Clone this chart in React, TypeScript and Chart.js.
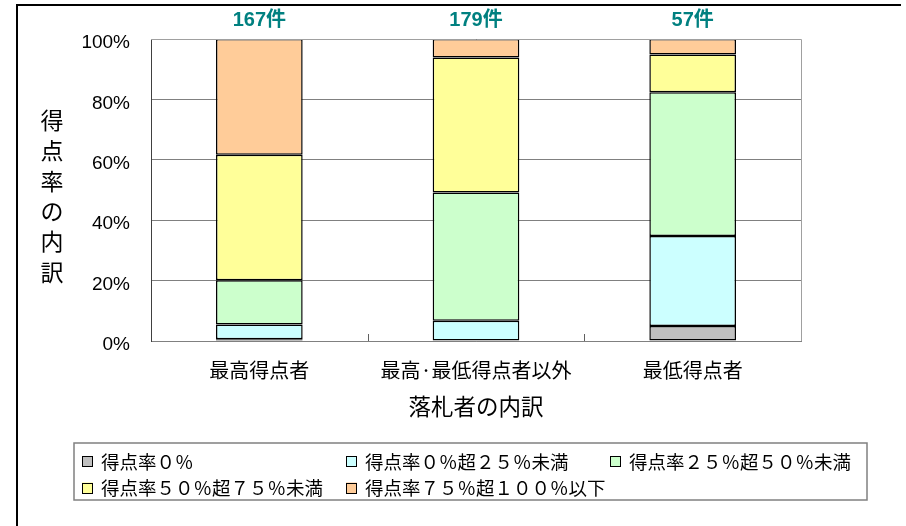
import React, { useEffect, useRef } from 'react';
import { Chart, registerables } from 'chart.js';

Chart.register(...registerables);

// ---- data ----
const categories = ['最高得点者', '最高·最低得点者以外', '最低得点者'];
const counts = [167, 179, 57];
const seriesLabels = [
  '得点率０％',
  '得点率０％超２５％未満',
  '得点率２５％超５０％未満',
  '得点率５０％超７５％未満',
  '得点率７５％超１００％以下',
];
const seriesColors = ['#C0C0C0', '#CCFFFF', '#CCFFCC', '#FFFF99', '#FFCC99'];
const rate0 = [0.6, 0, 5.0];
const rate0to25 = [4.9, 6.7, 29.8];
const rate25to50 = [14.6, 42.5, 47.6];
const rate50to75 = [41.6, 44.7, 12.5];
const rate75to100 = [38.3, 6.1, 5.1];
const yTicks = [0, 20, 40, 60, 80, 100];
const yTitle = '得点率の内訳';
const xTitle = '落札者の内訳';

const CJK = '"Noto Sans CJK JP", "Noto Sans", sans-serif';
const LATIN = '"Liberation Sans", Arial, "Noto Sans CJK JP", sans-serif';

const decorPlugin = {
  id: 'decor',
  afterDraw(chart: any) {
    const ctx = chart.ctx;
    const area = chart.chartArea;
    const x = chart.scales.x;
    ctx.save();
    // plot area top & right border
    ctx.strokeStyle = '#a0a0a0';
    ctx.lineWidth = 1;
    ctx.beginPath();
    ctx.moveTo(area.left, Math.round(area.top) + 0.5);
    ctx.lineTo(Math.round(area.right) + 0.5, Math.round(area.top) + 0.5);
    ctx.lineTo(Math.round(area.right) + 0.5, area.bottom);
    ctx.stroke();
    // inner tick marks between categories
    ctx.strokeStyle = '#606060';
    for (let i = 0; i < categories.length - 1; i++) {
      const bx = Math.round((x.getPixelForValue(i) + x.getPixelForValue(i + 1)) / 2) + 0.5;
      ctx.beginPath();
      ctx.moveTo(bx, area.bottom);
      ctx.lineTo(bx, area.bottom - 7);
      ctx.stroke();
    }
    // count labels above bars
    ctx.fillStyle = '#008080';
    ctx.font = 'bold 20px ' + LATIN;
    ctx.textAlign = 'center';
    ctx.textBaseline = 'middle';
    counts.forEach((c, i) => {
      ctx.fillText(c + '件', x.getPixelForValue(i), 20);
    });
    // y title (stacked vertical characters)
    ctx.fillStyle = '#000';
    ctx.font = '23px ' + CJK;
    Array.from(yTitle).forEach((ch, i) => {
      ctx.fillText(ch, 52, 120 + i * 30.4);
    });
    // outer frame
    ctx.strokeStyle = '#000';
    ctx.lineWidth = 2;
    ctx.beginPath();
    ctx.moveTo(17, 526);
    ctx.lineTo(17, 5);
    ctx.lineTo(901, 5);
    ctx.stroke();
    // legend
    const lx = 74, ly = 443, lw = 793, lh = 57;
    ctx.strokeStyle = '#808080';
    ctx.lineWidth = 1.5;
    ctx.strokeRect(lx, ly, lw, lh);
    ctx.font = '18.5px ' + CJK;
    ctx.textAlign = 'left';
    ctx.textBaseline = 'middle';
    seriesLabels.forEach((label, i) => {
      const col = i % 3;
      const row = Math.floor(i / 3);
      const ix = lx + 8 + col * 264;
      const iy = ly + 18.5 + row * 26.5;
      ctx.fillStyle = seriesColors[i];
      ctx.fillRect(ix, iy - 5.5, 11, 11);
      ctx.strokeStyle = '#000';
      ctx.lineWidth = 1;
      ctx.strokeRect(ix + 0.5, Math.round(iy - 5.5) + 0.5, 10, 10);
      ctx.fillStyle = '#000';
      ctx.fillText(label, ix + 19, iy);
    });
    ctx.restore();
  },
};

export default function App() {
  const ref = useRef<HTMLCanvasElement>(null);
  useEffect(() => {
    const seriesData = [rate0, rate0to25, rate25to50, rate50to75, rate75to100];
    const chart = new Chart(ref.current as HTMLCanvasElement, {
      type: 'bar',
      data: {
        labels: categories,
        datasets: seriesData.map((d, i) => ({
          label: seriesLabels[i],
          data: d,
          backgroundColor: seriesColors[i],
          borderColor: '#000',
          borderWidth: 1.5,
          borderSkipped: false,
          inflateAmount: 0,
          categoryPercentage: 1,
          barPercentage: 0.4,
        })),
      },
      options: {
        responsive: false,
        animation: false,
        devicePixelRatio: 1,
        layout: { padding: { top: 39, left: 0, right: 105, bottom: 0 } },
        plugins: { legend: { display: false }, tooltip: { enabled: false } },
        scales: {
          x: {
            stacked: true,
            grid: { display: false },
            border: { display: true, color: '#808080', width: 1 },
            ticks: { color: '#000', padding: 9, font: { family: CJK, size: 20 } },
            title: {
              display: true,
              text: xTitle,
              color: '#000',
              font: { family: CJK, size: 22.5 },
              padding: { top: 0, bottom: 106 },
            },
            afterFit: (s: any) => { s.height = 185; },
          },
          y: {
            stacked: true,
            min: 0,
            max: 100,
            afterBuildTicks: (s: any) => { s.ticks = yTicks.map((v) => ({ value: v })); },
            grid: { color: '#808080', drawTicks: false, lineWidth: 1 },
            border: { display: true, color: '#404040', width: 1 },
            ticks: {
              color: '#000',
              padding: 21,
              labelOffset: 4,
              font: { family: LATIN, size: 19 },
              callback: (v: any) => v + '%',
            },
            afterFit: (s: any) => { s.width = 151; },
          },
        },
      },
      plugins: [decorPlugin],
    });
    return () => chart.destroy();
  }, []);
  return (
    <div style={{ position: 'absolute', left: 0, top: 0, width: 906, height: 526, background: '#fff' }}>
      <canvas ref={ref} width={906} height={526} style={{ display: 'block' }} />
    </div>
  );
}
